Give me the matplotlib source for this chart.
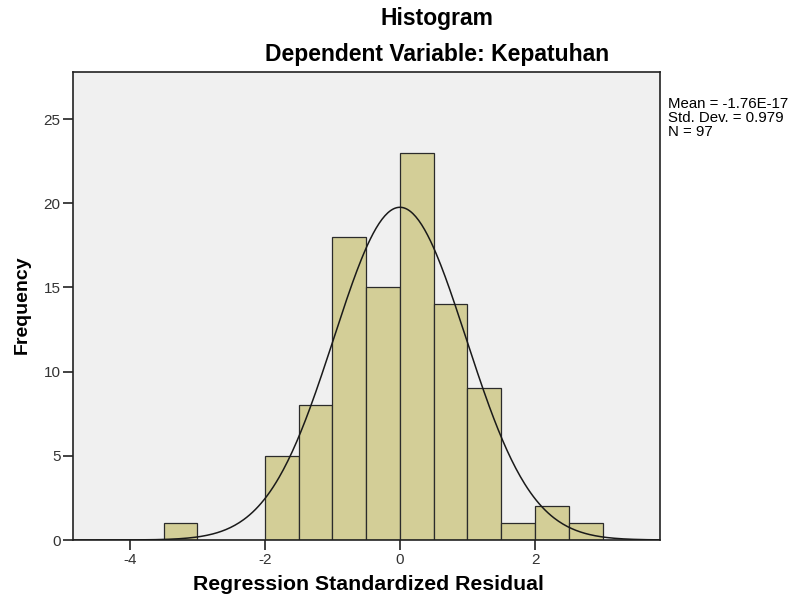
import matplotlib.pyplot as plt
import numpy as np

plt.rcParams['font.family'] = ['Liberation Sans', 'DejaVu Sans']
plt.rcParams['axes.unicode_minus'] = False

# Histogram bins (width 0.5) and counts
bin_left = [-3.5, -3.0, -2.5, -2.0, -1.5, -1.0, -0.5, 0.0, 0.5, 1.0, 1.5, 2.0, 2.5]
counts = [1, 0, 0, 5, 8, 18, 15, 23, 14, 9, 1, 2, 1]
bin_width = 0.5

mean = -1.76e-17
std = 0.979
n = 97

x_ticks = [-4, -2, 0, 2]
y_ticks = [0, 5, 10, 15, 20, 25]
stats_lines = ['Mean = -1.76E-17', 'Std. Dev. = 0.979', 'N = 97']

x_min, x_max = -4.84, 3.85
y_max = 27.8

fig = plt.figure(figsize=(7.93, 6.0), dpi=100)
ax = fig.add_axes([73 / 793, 60 / 600, 587 / 793, 468 / 600])
ax.set_facecolor('#f0f0f0')

ax.bar(bin_left, counts, width=bin_width, align='edge',
       color='#d3ce97', edgecolor='#2b2b2b', linewidth=0.9, zorder=2)

# normal curve scaled to the histogram
xs = np.linspace(x_min, x_max, 400)
ys = n * bin_width / (std * np.sqrt(2 * np.pi)) * np.exp(-0.5 * ((xs - mean) / std) ** 2)
ax.plot(xs, ys, color='#1a1a1a', linewidth=1.1, zorder=3)

ax.set_xlim(x_min, x_max)
ax.set_ylim(0, y_max)
ax.set_xticks(x_ticks)
ax.set_yticks(y_ticks)
ax.tick_params(direction='out', length=7, width=1.2, colors='#222222',
               labelsize=11, labelcolor='#333333', pad=2)
for s in ax.spines.values():
    s.set_linewidth(1.2)
    s.set_color('#222222')

fig.text(368 / 793, 1 - 585 / 600, 'Regression Standardized Residual', ha='center', va='center',
         fontsize=15.3, fontweight='bold')
fig.text(22 / 793, 1 - 305 / 600, 'Frequency', ha='center', va='center', rotation=90,
         fontsize=14, fontweight='bold')

fig.text(437 / 793, 1 - 18 / 600, 'Histogram', ha='center', va='center',
         fontsize=16.5, fontweight='bold')
fig.text(437 / 793, 1 - 55 / 600, 'Dependent Variable: Kepatuhan', ha='center', va='center',
         fontsize=16.5, fontweight='bold')

for i, line in enumerate(stats_lines):
    fig.text(668 / 793, 1 - (104 + 14 * i) / 600, line, ha='left', va='center', fontsize=10.8)

fig.savefig('out.png', dpi=100)
